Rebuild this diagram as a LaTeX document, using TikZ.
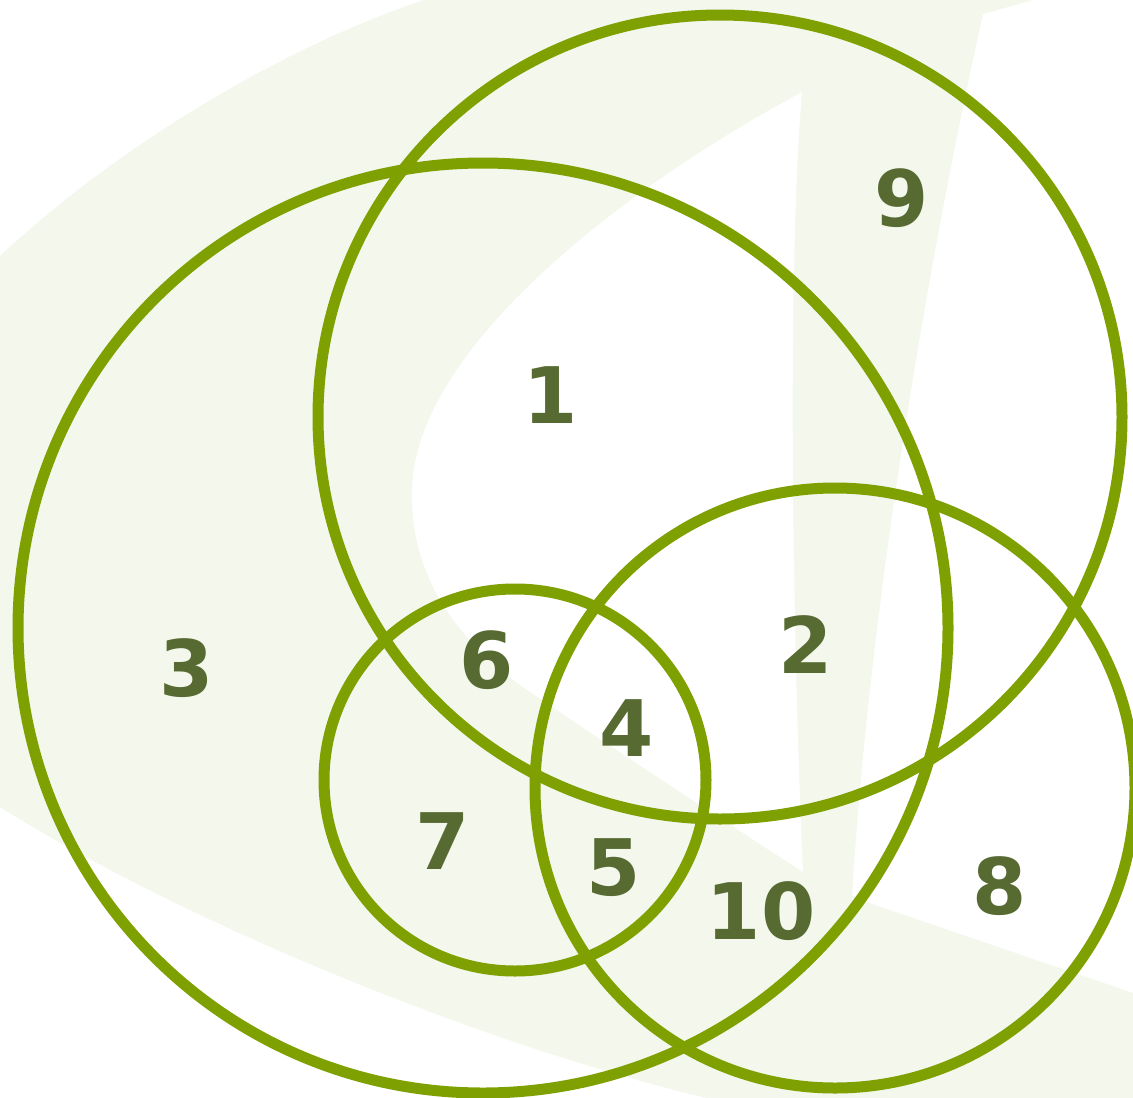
\documentclass[tikz,border=0pt]{standalone}
\usepackage{fontspec}
\setmainfont{DejaVu Sans}
\definecolor{ringgreen}{RGB}{126,160,0}
\definecolor{numc}{RGB}{86,106,49}
\definecolor{bgc}{RGB}{243,247,236}
\begin{document}
\begin{tikzpicture}[x=1pt,y=-1pt,
  ringline/.style={draw=ringgreen,line width=11pt},
  num/.style={text=numc,font=\fontsize{78}{80}\selectfont\bfseries,inner sep=0pt,anchor=center}]
\useasboundingbox (0,0) rectangle (1133,1098);
\clip (0,0) rectangle (1133,1098);
\fill[white] (0,0) rectangle (1133,1098);
% background swoosh
\fill[bgc] (430,-2) -- (1040,-2) -- (983,14)
  .. controls (930,250) and (870,600) .. (852,895)
  -- (869,903) -- (1133,993) -- (1133,1100) -- (715,1100)
  .. controls (480,1045) and (180,920) .. (0,807)
  -- (-2,807) -- (-2,256) -- (0,256)
  .. controls (130,135) and (300,40) .. (430,-2)
  -- cycle;
% inner white leaf
\fill[white] (802,92)
  .. controls (620,190) and (415,350) .. (412,490)
  .. controls (410,580) and (460,640) .. (520,685)
  .. controls (600,740) and (700,805) .. (803,872)
  .. controls (795,700) and (785,300) .. (802,92)
  -- cycle;
% circles
\draw[ringline] (483,628) circle[radius=465];
\draw[ringline] (720,417) circle[radius=402];
\draw[ringline] (835,788) circle[radius=300];
\draw[ringline] (515,780) circle[radius=191];
% numbers
\node[num] (n1) at (551,395) {1};
\node[num] (n9) at (902,198) {9};
\node[num] (n3) at (187,668) {3};
\node[num] (n6) at (487,660) {6};
\node[num] (n2) at (806,645) {2};
\node[num] (n4) at (627,728) {4};
\node[num] (n7) at (443,841) {7};
\node[num] (n5) at (614,868) {5};
\node[num] (n10) at (761,911) {10};
\node[num] (n8) at (1000,886) {8};
\end{tikzpicture}
\end{document}
